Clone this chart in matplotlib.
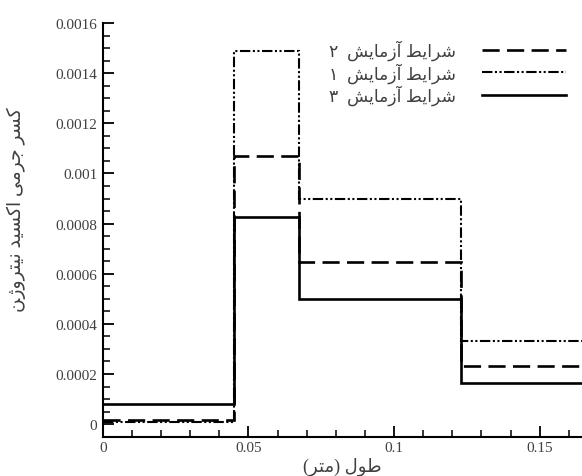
import matplotlib
matplotlib.use("Agg")
import matplotlib.pyplot as plt
from matplotlib.ticker import MultipleLocator, FuncFormatter

# step edges along the length (m)
x_edges = [0.0, 0.0452, 0.0675, 0.123, 0.1645]

# NO mass fraction per segment
test1 = [0.00001, 0.00149, 0.0009, 0.00033]    # dash-dot-dot
test2 = [0.000015, 0.00107, 0.000645, 0.00023]  # dashed
test3 = [0.00008, 0.000825, 0.0005, 0.000165]   # solid

# Persian labels, pre-shaped (presentation forms, visual order)
label1 = "\u06F1  \uFEB6\uFEF3\uFE8E\uFEE3\u0632\u0622 \uFEC2\uFEF3\u0627\uFEAE\uFEB7"
label2 = "\u06F2  \uFEB6\uFEF3\uFE8E\uFEE3\u0632\u0622 \uFEC2\uFEF3\u0627\uFEAE\uFEB7"
label3 = "\u06F3  \uFEB6\uFEF3\uFE8E\uFEE3\u0632\u0622 \uFEC2\uFEF3\u0627\uFEAE\uFEB7"
ylabel = ("\uFEE6\u0698\u0648\uFEAE\uFE98\uFEF4\uFEE7 "
          "\uFEAA\uFEF4\uFEB4\uFEDB\u0627 "
          "\uFEF0\uFEE3\uFEAE\uFE9F "
          "\uFEAE\uFEB4\uFEDB")
xlabel = "(\uFEAE\uFE98\uFEE3) \u0644\uFEEE\uFEC3"

fa_font = ["Liberation Serif", "DejaVu Sans"]
plt.rcParams["font.family"] = fa_font
text_color = "#404040"

fig = plt.figure(figsize=(5.82, 4.77), dpi=100)
ax = fig.add_axes([0.1765, 0.0824, 0.8235, 0.8673])

ax.stairs(test2, x_edges, baseline=None, color="black", linewidth=1.9,
          linestyle=(0, (6.5, 2.8)), label=label2)
ax.stairs(test1, x_edges, baseline=None, color="black", linewidth=1.5,
          linestyle=(0, (5, 1.2, 1, 1.2, 1, 1.2)), label=label1)
ax.stairs(test3, x_edges, baseline=None, color="black", linewidth=1.9,
          label=label3)

ax.set_xlim(0, 0.1645)
ax.set_ylim(-0.00005, 0.0016)

for side in ("top", "right"):
    ax.spines[side].set_visible(False)
for side in ("left", "bottom"):
    ax.spines[side].set_linewidth(1.5)

ax.xaxis.set_major_locator(MultipleLocator(0.05))
ax.xaxis.set_minor_locator(MultipleLocator(0.01))
ax.yaxis.set_major_locator(MultipleLocator(0.0002))
ax.yaxis.set_minor_locator(MultipleLocator(0.00005))
fmt = FuncFormatter(lambda v, pos: "%g" % round(v, 6))
ax.xaxis.set_major_formatter(fmt)
ax.yaxis.set_major_formatter(fmt)
ax.tick_params(which="major", direction="in", length=8, width=1.3,
               labelsize=11, labelcolor=text_color)
ax.tick_params(axis="x", which="major", pad=3)
ax.tick_params(axis="y", which="major", pad=4)
ax.tick_params(which="minor", direction="in", length=5, width=1.1)

ax.set_xlabel(xlabel, fontsize=13, color=text_color)
ax.xaxis.set_label_coords(0.5, -0.048)
ax.set_ylabel(ylabel, fontsize=13.5, color=text_color)
ax.yaxis.set_label_coords(-0.16, 0.55)

leg = ax.legend(loc="upper right", bbox_to_anchor=(0.985, 0.93),
                bbox_transform=fig.transFigure, frameon=False,
                markerfirst=False, handlelength=4.9, handletextpad=1.5,
                labelspacing=0.12, prop={"size": 12.4},
                borderaxespad=0)
for t in leg.get_texts():
    t.set_color(text_color)

fig.savefig("out.png", dpi=100)
